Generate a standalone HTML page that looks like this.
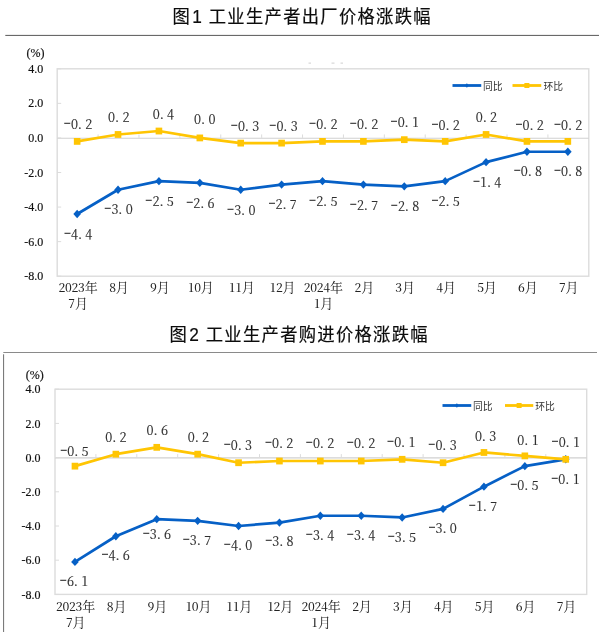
<!DOCTYPE html>
<html lang="zh-CN"><head><meta charset="utf-8"><title>工业生产者价格涨跌幅</title>
<style>
html,body{margin:0;padding:0;background:#fff;}
body{width:600px;height:632px;overflow:hidden;}
svg{display:block;}
.title{font-family:"Liberation Sans","Noto Sans CJK SC",sans-serif;font-size:18.8px;fill:#0c0c0c;stroke:#0c0c0c;stroke-width:0.2px;}
.yl{font-family:"Liberation Serif","Noto Serif CJK SC",serif;font-size:12px;fill:#111;stroke:#111;stroke-width:0.18px;}
.dl{font-family:"Noto Serif CJK SC","Liberation Serif",serif;font-weight:400;font-size:12.6px;fill:#2e2e2e;stroke:#2e2e2e;stroke-width:0.18px;}
.hy{font-family:"IPAGothic","Noto Serif CJK SC",serif;font-size:15px;stroke:none;}
.xl{font-family:"Noto Serif CJK SC","Liberation Serif",serif;font-weight:400;font-size:13px;fill:#222;}
.dg{font-size:12px;font-weight:500;}
.lg{font-family:"Liberation Sans","Noto Sans CJK SC",sans-serif;font-size:9.8px;fill:#333;}
</style></head><body>
<svg width="600" height="632" viewBox="0 0 600 632">
<rect x="0" y="0" width="600" height="632" fill="#ffffff"/>
<line x1="5.3" y1="35.4" x2="599" y2="35.4" stroke="#585858" stroke-width="1"/>
<line x1="3.3" y1="352.5" x2="597" y2="352.5" stroke="#8a8a8a" stroke-width="1"/>
<line x1="3.6" y1="354.3" x2="3.6" y2="632" stroke="#5c5c5c" stroke-width="0.9"/>
<g fill="#cfcfcf"><rect x="308.5" y="62.6" width="2.5" height="1"/><rect x="331.5" y="62.6" width="3" height="1"/><rect x="340.5" y="62.6" width="2.5" height="1"/></g>
<g>
<text class="title" text-anchor="middle" letter-spacing="1.42" transform="translate(302.20,23.00) scale(0.92,0.955)" x="0" y="0">图<tspan dx="1.2">1</tspan> <tspan dx="-0.6">工业生产者出厂价格涨跌幅</tspan></text>
<rect x="57.20" y="68.80" width="531.60" height="207.40" fill="#fff" stroke="#dcdcdc" stroke-width="1.4"/>
<line x1="57.20" y1="138.23" x2="588.80" y2="138.23" stroke="#d0d0d0" stroke-width="1.2"/>
<line x1="57.20" y1="68.80" x2="61.20" y2="68.80" stroke="#dcdcdc" stroke-width="1"/>
<text class="yl" text-anchor="end" x="43.3" y="72.90">4.0</text>
<line x1="57.20" y1="103.37" x2="61.20" y2="103.37" stroke="#dcdcdc" stroke-width="1"/>
<text class="yl" text-anchor="end" x="43.3" y="107.47">2.0</text>
<line x1="57.20" y1="137.93" x2="61.20" y2="137.93" stroke="#dcdcdc" stroke-width="1"/>
<text class="yl" text-anchor="end" x="43.3" y="142.03">0.0</text>
<line x1="57.20" y1="172.50" x2="61.20" y2="172.50" stroke="#dcdcdc" stroke-width="1"/>
<text class="yl" text-anchor="end" x="43.3" y="176.60">-2.0</text>
<line x1="57.20" y1="207.07" x2="61.20" y2="207.07" stroke="#dcdcdc" stroke-width="1"/>
<text class="yl" text-anchor="end" x="43.3" y="211.17">-4.0</text>
<line x1="57.20" y1="241.63" x2="61.20" y2="241.63" stroke="#dcdcdc" stroke-width="1"/>
<text class="yl" text-anchor="end" x="43.3" y="245.73">-6.0</text>
<line x1="57.20" y1="276.20" x2="61.20" y2="276.20" stroke="#dcdcdc" stroke-width="1"/>
<text class="yl" text-anchor="end" x="43.3" y="280.30">-8.0</text>
<line x1="98.09" y1="134.43" x2="98.09" y2="137.93" stroke="#dcdcdc" stroke-width="1"/>
<line x1="138.98" y1="134.43" x2="138.98" y2="137.93" stroke="#dcdcdc" stroke-width="1"/>
<line x1="179.88" y1="134.43" x2="179.88" y2="137.93" stroke="#dcdcdc" stroke-width="1"/>
<line x1="220.77" y1="134.43" x2="220.77" y2="137.93" stroke="#dcdcdc" stroke-width="1"/>
<line x1="261.66" y1="134.43" x2="261.66" y2="137.93" stroke="#dcdcdc" stroke-width="1"/>
<line x1="302.55" y1="134.43" x2="302.55" y2="137.93" stroke="#dcdcdc" stroke-width="1"/>
<line x1="343.45" y1="134.43" x2="343.45" y2="137.93" stroke="#dcdcdc" stroke-width="1"/>
<line x1="384.34" y1="134.43" x2="384.34" y2="137.93" stroke="#dcdcdc" stroke-width="1"/>
<line x1="425.23" y1="134.43" x2="425.23" y2="137.93" stroke="#dcdcdc" stroke-width="1"/>
<line x1="466.12" y1="134.43" x2="466.12" y2="137.93" stroke="#dcdcdc" stroke-width="1"/>
<line x1="507.02" y1="134.43" x2="507.02" y2="137.93" stroke="#dcdcdc" stroke-width="1"/>
<line x1="547.91" y1="134.43" x2="547.91" y2="137.93" stroke="#dcdcdc" stroke-width="1"/>
<text class="yl" text-anchor="middle" x="35.4" y="56.7">(%)</text>
<polyline points="77.15,213.98 118.04,189.78 158.93,181.14 199.82,182.87 240.72,189.78 281.61,184.60 322.50,181.14 363.39,184.60 404.28,186.33 445.18,181.14 486.07,162.13 526.96,151.76 567.85,151.76" fill="none" stroke="#0660c6" stroke-width="2.7" stroke-linejoin="round" stroke-linecap="round"/>
<path d="M73.35 213.98L77.15 209.78L80.95 213.98L77.15 218.18Z" fill="#0660c6"/>
<path d="M114.24 189.78L118.04 185.58L121.84 189.78L118.04 193.98Z" fill="#0660c6"/>
<path d="M155.13 181.14L158.93 176.94L162.73 181.14L158.93 185.34Z" fill="#0660c6"/>
<path d="M196.02 182.87L199.82 178.67L203.62 182.87L199.82 187.07Z" fill="#0660c6"/>
<path d="M236.92 189.78L240.72 185.58L244.52 189.78L240.72 193.98Z" fill="#0660c6"/>
<path d="M277.81 184.60L281.61 180.40L285.41 184.60L281.61 188.80Z" fill="#0660c6"/>
<path d="M318.70 181.14L322.50 176.94L326.30 181.14L322.50 185.34Z" fill="#0660c6"/>
<path d="M359.59 184.60L363.39 180.40L367.19 184.60L363.39 188.80Z" fill="#0660c6"/>
<path d="M400.48 186.33L404.28 182.13L408.08 186.33L404.28 190.53Z" fill="#0660c6"/>
<path d="M441.38 181.14L445.18 176.94L448.98 181.14L445.18 185.34Z" fill="#0660c6"/>
<path d="M482.27 162.13L486.07 157.93L489.87 162.13L486.07 166.33Z" fill="#0660c6"/>
<path d="M523.16 151.76L526.96 147.56L530.76 151.76L526.96 155.96Z" fill="#0660c6"/>
<path d="M564.05 151.76L567.85 147.56L571.65 151.76L567.85 155.96Z" fill="#0660c6"/>
<polyline points="77.15,141.39 118.04,134.48 158.93,131.02 199.82,137.93 240.72,143.12 281.61,143.12 322.50,141.39 363.39,141.39 404.28,139.66 445.18,141.39 486.07,134.48 526.96,141.39 567.85,141.39" fill="none" stroke="#ffc503" stroke-width="2.7" stroke-linejoin="round" stroke-linecap="round"/>
<rect x="73.85" y="137.99" width="6.6" height="6.8" fill="#ffc503"/>
<rect x="114.74" y="131.08" width="6.6" height="6.8" fill="#ffc503"/>
<rect x="155.63" y="127.62" width="6.6" height="6.8" fill="#ffc503"/>
<rect x="196.52" y="134.53" width="6.6" height="6.8" fill="#ffc503"/>
<rect x="237.42" y="139.72" width="6.6" height="6.8" fill="#ffc503"/>
<rect x="278.31" y="139.72" width="6.6" height="6.8" fill="#ffc503"/>
<rect x="319.20" y="137.99" width="6.6" height="6.8" fill="#ffc503"/>
<rect x="360.09" y="137.99" width="6.6" height="6.8" fill="#ffc503"/>
<rect x="400.98" y="136.26" width="6.6" height="6.8" fill="#ffc503"/>
<rect x="441.88" y="137.99" width="6.6" height="6.8" fill="#ffc503"/>
<rect x="482.77" y="131.08" width="6.6" height="6.8" fill="#ffc503"/>
<rect x="523.66" y="137.99" width="6.6" height="6.8" fill="#ffc503"/>
<rect x="564.55" y="137.99" width="6.6" height="6.8" fill="#ffc503"/>
<text class="dl" text-anchor="middle" x="67.28 74.43 79.88 88.73" y="128.50"><tspan class="hy">-</tspan>0.2</text>
<text class="dl" text-anchor="middle" x="111.60 117.05 125.90" y="121.50">0.2</text>
<text class="dl" text-anchor="middle" x="156.25 161.70 170.55" y="118.70">0.4</text>
<text class="dl" text-anchor="middle" x="197.60 203.05 211.90" y="124.10">0.0</text>
<text class="dl" text-anchor="middle" x="234.27 241.42 246.88 255.72" y="131.10"><tspan class="hy">-</tspan>0.3</text>
<text class="dl" text-anchor="middle" x="272.77 279.93 285.38 294.22" y="131.10"><tspan class="hy">-</tspan>0.3</text>
<text class="dl" text-anchor="middle" x="312.52 319.68 325.12 333.97" y="128.90"><tspan class="hy">-</tspan>0.2</text>
<text class="dl" text-anchor="middle" x="353.27 360.43 365.88 374.72" y="129.40"><tspan class="hy">-</tspan>0.2</text>
<text class="dl" text-anchor="middle" x="394.02 401.18 406.62 415.47" y="127.00"><tspan class="hy">-</tspan>0.1</text>
<text class="dl" text-anchor="middle" x="434.88 442.03 447.48 456.32" y="129.50"><tspan class="hy">-</tspan>0.2</text>
<text class="dl" text-anchor="middle" x="479.25 484.70 493.55" y="122.00">0.2</text>
<text class="dl" text-anchor="middle" x="518.88 526.03 531.48 540.33" y="129.90"><tspan class="hy">-</tspan>0.2</text>
<text class="dl" text-anchor="middle" x="557.38 564.53 569.98 578.83" y="129.90"><tspan class="hy">-</tspan>0.2</text>
<text class="dl" text-anchor="middle" x="67.38 74.53 79.97 88.83" y="239.25"><tspan class="hy">-</tspan>4.4</text>
<text class="dl" text-anchor="middle" x="107.78 114.93 120.38 129.22" y="214.25"><tspan class="hy">-</tspan>3.0</text>
<text class="dl" text-anchor="middle" x="148.87 156.02 161.47 170.32" y="206.00"><tspan class="hy">-</tspan>2.5</text>
<text class="dl" text-anchor="middle" x="189.67 196.82 202.28 211.12" y="208.00"><tspan class="hy">-</tspan>2.6</text>
<text class="dl" text-anchor="middle" x="230.52 237.67 243.12 251.97" y="214.75"><tspan class="hy">-</tspan>3.0</text>
<text class="dl" text-anchor="middle" x="271.88 279.03 284.48 293.32" y="209.25"><tspan class="hy">-</tspan>2.7</text>
<text class="dl" text-anchor="middle" x="312.52 319.68 325.12 333.97" y="206.00"><tspan class="hy">-</tspan>2.5</text>
<text class="dl" text-anchor="middle" x="353.27 360.43 365.88 374.72" y="209.75"><tspan class="hy">-</tspan>2.7</text>
<text class="dl" text-anchor="middle" x="394.27 401.43 406.88 415.72" y="211.40"><tspan class="hy">-</tspan>2.8</text>
<text class="dl" text-anchor="middle" x="434.88 442.03 447.48 456.32" y="206.10"><tspan class="hy">-</tspan>2.5</text>
<text class="dl" text-anchor="middle" x="476.38 483.53 488.98 497.82" y="187.25"><tspan class="hy">-</tspan>1.4</text>
<text class="dl" text-anchor="middle" x="517.18 524.33 529.77 538.62" y="176.40"><tspan class="hy">-</tspan>0.8</text>
<text class="dl" text-anchor="middle" x="557.38 564.53 569.98 578.83" y="176.40"><tspan class="hy">-</tspan>0.8</text>
<text class="xl" text-anchor="middle" x="61.90 68.40 74.90 81.40 91.15" y="292.40"><tspan class="dg">2023</tspan>年</text>
<text class="xl" text-anchor="middle" x="71.65 81.40" y="308.20"><tspan class="dg">7</tspan>月</text>
<text class="xl" text-anchor="middle" x="112.54 122.29" y="292.40"><tspan class="dg">8</tspan>月</text>
<text class="xl" text-anchor="middle" x="153.43 163.18" y="292.40"><tspan class="dg">9</tspan>月</text>
<text class="xl" text-anchor="middle" x="191.07 197.57 207.32" y="292.40"><tspan class="dg">10</tspan>月</text>
<text class="xl" text-anchor="middle" x="231.97 238.47 248.22" y="292.40"><tspan class="dg">11</tspan>月</text>
<text class="xl" text-anchor="middle" x="272.86 279.36 289.11" y="292.40"><tspan class="dg">12</tspan>月</text>
<text class="xl" text-anchor="middle" x="307.25 313.75 320.25 326.75 336.50" y="292.40"><tspan class="dg">2024</tspan>年</text>
<text class="xl" text-anchor="middle" x="317.00 326.75" y="308.20"><tspan class="dg">1</tspan>月</text>
<text class="xl" text-anchor="middle" x="357.89 367.64" y="292.40"><tspan class="dg">2</tspan>月</text>
<text class="xl" text-anchor="middle" x="398.78 408.53" y="292.40"><tspan class="dg">3</tspan>月</text>
<text class="xl" text-anchor="middle" x="439.68 449.43" y="292.40"><tspan class="dg">4</tspan>月</text>
<text class="xl" text-anchor="middle" x="480.57 490.32" y="292.40"><tspan class="dg">5</tspan>月</text>
<text class="xl" text-anchor="middle" x="521.46 531.21" y="292.40"><tspan class="dg">6</tspan>月</text>
<text class="xl" text-anchor="middle" x="562.35 572.10" y="292.40"><tspan class="dg">7</tspan>月</text>
<line x1="452.50" y1="85.50" x2="481.25" y2="85.50" stroke="#0660c6" stroke-width="2.8" stroke-linecap="butt"/>
<path d="M465.07 85.50L466.88 83.30L468.68 85.50L466.88 87.70Z" fill="#0660c6"/>
<text class="lg" x="483.00" y="89.60">同比</text>
<line x1="512.50" y1="85.50" x2="541.25" y2="85.50" stroke="#ffc503" stroke-width="2.8" stroke-linecap="butt"/>
<rect x="524.38" y="83.00" width="5" height="5" fill="#ffc503"/>
<text class="lg" x="543.50" y="89.60">环比</text>
</g>
<g>
<text class="title" text-anchor="middle" letter-spacing="1.42" transform="translate(299.20,341.00) scale(0.92,0.955)" x="0" y="0">图<tspan dx="1.2">2</tspan> <tspan dx="-0.6">工业生产者购进价格涨跌幅</tspan></text>
<rect x="55.00" y="389.20" width="531.70" height="205.20" fill="#fff" stroke="#dcdcdc" stroke-width="1.4"/>
<line x1="55.00" y1="457.90" x2="586.70" y2="457.90" stroke="#d0d0d0" stroke-width="1.2"/>
<line x1="55.00" y1="389.20" x2="59.00" y2="389.20" stroke="#dcdcdc" stroke-width="1"/>
<text class="yl" text-anchor="end" x="40.6" y="393.30">4.0</text>
<line x1="55.00" y1="423.40" x2="59.00" y2="423.40" stroke="#dcdcdc" stroke-width="1"/>
<text class="yl" text-anchor="end" x="40.6" y="427.50">2.0</text>
<line x1="55.00" y1="457.60" x2="59.00" y2="457.60" stroke="#dcdcdc" stroke-width="1"/>
<text class="yl" text-anchor="end" x="40.6" y="461.70">0.0</text>
<line x1="55.00" y1="491.80" x2="59.00" y2="491.80" stroke="#dcdcdc" stroke-width="1"/>
<text class="yl" text-anchor="end" x="40.6" y="495.90">-2.0</text>
<line x1="55.00" y1="526.00" x2="59.00" y2="526.00" stroke="#dcdcdc" stroke-width="1"/>
<text class="yl" text-anchor="end" x="40.6" y="530.10">-4.0</text>
<line x1="55.00" y1="560.20" x2="59.00" y2="560.20" stroke="#dcdcdc" stroke-width="1"/>
<text class="yl" text-anchor="end" x="40.6" y="564.30">-6.0</text>
<line x1="55.00" y1="594.40" x2="59.00" y2="594.40" stroke="#dcdcdc" stroke-width="1"/>
<text class="yl" text-anchor="end" x="40.6" y="598.50">-8.0</text>
<line x1="95.90" y1="454.10" x2="95.90" y2="457.60" stroke="#dcdcdc" stroke-width="1"/>
<line x1="136.80" y1="454.10" x2="136.80" y2="457.60" stroke="#dcdcdc" stroke-width="1"/>
<line x1="177.70" y1="454.10" x2="177.70" y2="457.60" stroke="#dcdcdc" stroke-width="1"/>
<line x1="218.60" y1="454.10" x2="218.60" y2="457.60" stroke="#dcdcdc" stroke-width="1"/>
<line x1="259.50" y1="454.10" x2="259.50" y2="457.60" stroke="#dcdcdc" stroke-width="1"/>
<line x1="300.40" y1="454.10" x2="300.40" y2="457.60" stroke="#dcdcdc" stroke-width="1"/>
<line x1="341.30" y1="454.10" x2="341.30" y2="457.60" stroke="#dcdcdc" stroke-width="1"/>
<line x1="382.20" y1="454.10" x2="382.20" y2="457.60" stroke="#dcdcdc" stroke-width="1"/>
<line x1="423.10" y1="454.10" x2="423.10" y2="457.60" stroke="#dcdcdc" stroke-width="1"/>
<line x1="464.00" y1="454.10" x2="464.00" y2="457.60" stroke="#dcdcdc" stroke-width="1"/>
<line x1="504.90" y1="454.10" x2="504.90" y2="457.60" stroke="#dcdcdc" stroke-width="1"/>
<line x1="545.80" y1="454.10" x2="545.80" y2="457.60" stroke="#dcdcdc" stroke-width="1"/>
<text class="yl" text-anchor="middle" x="34.7" y="379.2">(%)</text>
<polyline points="74.95,561.91 115.85,536.26 156.75,519.16 197.65,520.87 238.55,526.00 279.45,522.58 320.35,515.74 361.25,515.74 402.15,517.45 443.05,508.90 483.95,486.67 524.85,466.15 565.75,459.31" fill="none" stroke="#0660c6" stroke-width="2.7" stroke-linejoin="round" stroke-linecap="round"/>
<path d="M71.15 561.91L74.95 557.71L78.75 561.91L74.95 566.11Z" fill="#0660c6"/>
<path d="M112.05 536.26L115.85 532.06L119.65 536.26L115.85 540.46Z" fill="#0660c6"/>
<path d="M152.95 519.16L156.75 514.96L160.55 519.16L156.75 523.36Z" fill="#0660c6"/>
<path d="M193.85 520.87L197.65 516.67L201.45 520.87L197.65 525.07Z" fill="#0660c6"/>
<path d="M234.75 526.00L238.55 521.80L242.35 526.00L238.55 530.20Z" fill="#0660c6"/>
<path d="M275.65 522.58L279.45 518.38L283.25 522.58L279.45 526.78Z" fill="#0660c6"/>
<path d="M316.55 515.74L320.35 511.54L324.15 515.74L320.35 519.94Z" fill="#0660c6"/>
<path d="M357.45 515.74L361.25 511.54L365.05 515.74L361.25 519.94Z" fill="#0660c6"/>
<path d="M398.35 517.45L402.15 513.25L405.95 517.45L402.15 521.65Z" fill="#0660c6"/>
<path d="M439.25 508.90L443.05 504.70L446.85 508.90L443.05 513.10Z" fill="#0660c6"/>
<path d="M480.15 486.67L483.95 482.47L487.75 486.67L483.95 490.87Z" fill="#0660c6"/>
<path d="M521.05 466.15L524.85 461.95L528.65 466.15L524.85 470.35Z" fill="#0660c6"/>
<path d="M561.95 459.31L565.75 455.11L569.55 459.31L565.75 463.51Z" fill="#0660c6"/>
<polyline points="74.95,466.15 115.85,454.18 156.75,447.34 197.65,454.18 238.55,462.73 279.45,461.02 320.35,461.02 361.25,461.02 402.15,459.31 443.05,462.73 483.95,452.47 524.85,455.89 565.75,459.31" fill="none" stroke="#ffc503" stroke-width="2.7" stroke-linejoin="round" stroke-linecap="round"/>
<rect x="71.65" y="462.75" width="6.6" height="6.8" fill="#ffc503"/>
<rect x="112.55" y="450.78" width="6.6" height="6.8" fill="#ffc503"/>
<rect x="153.45" y="443.94" width="6.6" height="6.8" fill="#ffc503"/>
<rect x="194.35" y="450.78" width="6.6" height="6.8" fill="#ffc503"/>
<rect x="235.25" y="459.33" width="6.6" height="6.8" fill="#ffc503"/>
<rect x="276.15" y="457.62" width="6.6" height="6.8" fill="#ffc503"/>
<rect x="317.05" y="457.62" width="6.6" height="6.8" fill="#ffc503"/>
<rect x="357.95" y="457.62" width="6.6" height="6.8" fill="#ffc503"/>
<rect x="398.85" y="455.91" width="6.6" height="6.8" fill="#ffc503"/>
<rect x="439.75" y="459.33" width="6.6" height="6.8" fill="#ffc503"/>
<rect x="480.65" y="449.07" width="6.6" height="6.8" fill="#ffc503"/>
<rect x="521.55" y="452.49" width="6.6" height="6.8" fill="#ffc503"/>
<rect x="562.45" y="455.91" width="6.6" height="6.8" fill="#ffc503"/>
<text class="dl" text-anchor="middle" x="63.68 70.83 76.28 85.13" y="456.10"><tspan class="hy">-</tspan>0.5</text>
<text class="dl" text-anchor="middle" x="108.75 114.20 123.05" y="441.60">0.2</text>
<text class="dl" text-anchor="middle" x="150.10 155.55 164.40" y="434.50">0.6</text>
<text class="dl" text-anchor="middle" x="191.25 196.70 205.55" y="441.50">0.2</text>
<text class="dl" text-anchor="middle" x="227.17 234.32 239.78 248.62" y="449.50"><tspan class="hy">-</tspan>0.3</text>
<text class="dl" text-anchor="middle" x="268.38 275.53 280.98 289.82" y="447.90"><tspan class="hy">-</tspan>0.2</text>
<text class="dl" text-anchor="middle" x="309.27 316.43 321.88 330.72" y="447.90"><tspan class="hy">-</tspan>0.2</text>
<text class="dl" text-anchor="middle" x="350.27 357.43 362.88 371.72" y="447.90"><tspan class="hy">-</tspan>0.2</text>
<text class="dl" text-anchor="middle" x="390.52 397.68 403.12 411.97" y="446.50"><tspan class="hy">-</tspan>0.1</text>
<text class="dl" text-anchor="middle" x="431.77 438.93 444.38 453.22" y="449.90"><tspan class="hy">-</tspan>0.3</text>
<text class="dl" text-anchor="middle" x="478.45 483.90 492.75" y="440.60">0.3</text>
<text class="dl" text-anchor="middle" x="520.85 526.30 535.15" y="444.50">0.1</text>
<text class="dl" text-anchor="middle" x="555.03 562.18 567.62 576.48" y="446.50"><tspan class="hy">-</tspan>0.1</text>
<text class="dl" text-anchor="middle" x="63.28 70.43 75.88 84.73" y="586.10"><tspan class="hy">-</tspan>6.1</text>
<text class="dl" text-anchor="middle" x="104.88 112.03 117.47 126.33" y="559.90"><tspan class="hy">-</tspan>4.6</text>
<text class="dl" text-anchor="middle" x="146.17 153.32 158.78 167.62" y="539.25"><tspan class="hy">-</tspan>3.6</text>
<text class="dl" text-anchor="middle" x="186.17 193.32 198.78 207.62" y="544.75"><tspan class="hy">-</tspan>3.7</text>
<text class="dl" text-anchor="middle" x="227.37 234.52 239.97 248.82" y="550.10"><tspan class="hy">-</tspan>4.0</text>
<text class="dl" text-anchor="middle" x="268.67 275.82 281.27 290.12" y="546.40"><tspan class="hy">-</tspan>3.8</text>
<text class="dl" text-anchor="middle" x="309.27 316.43 321.88 330.72" y="540.10"><tspan class="hy">-</tspan>3.4</text>
<text class="dl" text-anchor="middle" x="350.27 357.43 362.88 371.72" y="540.10"><tspan class="hy">-</tspan>3.4</text>
<text class="dl" text-anchor="middle" x="391.17 398.32 403.77 412.62" y="541.75"><tspan class="hy">-</tspan>3.5</text>
<text class="dl" text-anchor="middle" x="431.88 439.03 444.48 453.32" y="533.00"><tspan class="hy">-</tspan>3.0</text>
<text class="dl" text-anchor="middle" x="472.27 479.43 484.88 493.72" y="510.50"><tspan class="hy">-</tspan>1.7</text>
<text class="dl" text-anchor="middle" x="513.67 520.82 526.27 535.12" y="489.90"><tspan class="hy">-</tspan>0.5</text>
<text class="dl" text-anchor="middle" x="554.68 561.83 567.27 576.12" y="483.50"><tspan class="hy">-</tspan>0.1</text>
<text class="xl" text-anchor="middle" x="59.50 66.00 72.50 79.00 88.75" y="610.90"><tspan class="dg">2023</tspan>年</text>
<text class="xl" text-anchor="middle" x="69.25 79.00" y="627.00"><tspan class="dg">7</tspan>月</text>
<text class="xl" text-anchor="middle" x="110.15 119.90" y="610.90"><tspan class="dg">8</tspan>月</text>
<text class="xl" text-anchor="middle" x="151.05 160.80" y="610.90"><tspan class="dg">9</tspan>月</text>
<text class="xl" text-anchor="middle" x="188.70 195.20 204.95" y="610.90"><tspan class="dg">10</tspan>月</text>
<text class="xl" text-anchor="middle" x="229.60 236.10 245.85" y="610.90"><tspan class="dg">11</tspan>月</text>
<text class="xl" text-anchor="middle" x="270.50 277.00 286.75" y="610.90"><tspan class="dg">12</tspan>月</text>
<text class="xl" text-anchor="middle" x="304.90 311.40 317.90 324.40 334.15" y="610.90"><tspan class="dg">2024</tspan>年</text>
<text class="xl" text-anchor="middle" x="314.65 324.40" y="627.00"><tspan class="dg">1</tspan>月</text>
<text class="xl" text-anchor="middle" x="355.55 365.30" y="610.90"><tspan class="dg">2</tspan>月</text>
<text class="xl" text-anchor="middle" x="396.45 406.20" y="610.90"><tspan class="dg">3</tspan>月</text>
<text class="xl" text-anchor="middle" x="437.35 447.10" y="610.90"><tspan class="dg">4</tspan>月</text>
<text class="xl" text-anchor="middle" x="478.25 488.00" y="610.90"><tspan class="dg">5</tspan>月</text>
<text class="xl" text-anchor="middle" x="519.15 528.90" y="610.90"><tspan class="dg">6</tspan>月</text>
<text class="xl" text-anchor="middle" x="560.05 569.80" y="610.90"><tspan class="dg">7</tspan>月</text>
<line x1="442.50" y1="405.50" x2="471.25" y2="405.50" stroke="#0660c6" stroke-width="2.8" stroke-linecap="butt"/>
<path d="M455.07 405.50L456.88 403.30L458.68 405.50L456.88 407.70Z" fill="#0660c6"/>
<text class="lg" x="473.00" y="409.60">同比</text>
<line x1="505.00" y1="405.50" x2="533.25" y2="405.50" stroke="#ffc503" stroke-width="2.8" stroke-linecap="butt"/>
<rect x="516.62" y="403.00" width="5" height="5" fill="#ffc503"/>
<text class="lg" x="535.30" y="409.60">环比</text>
</g>
</svg></body></html>
